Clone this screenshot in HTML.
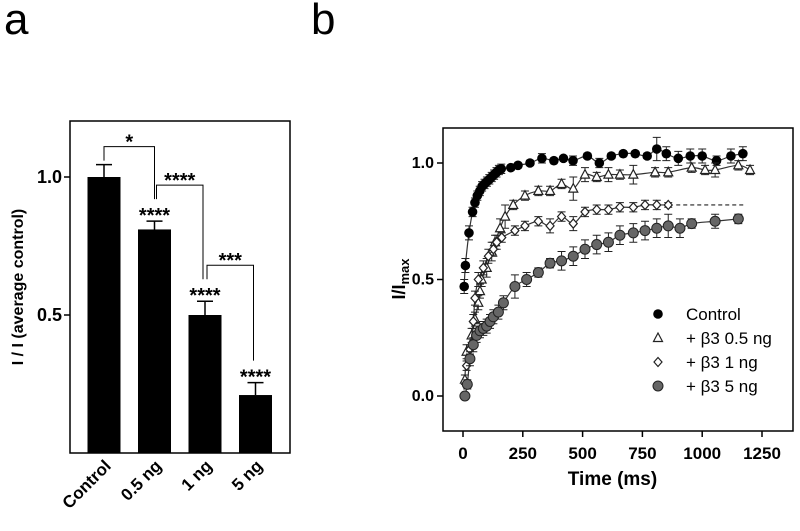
<!DOCTYPE html>
<html><head><meta charset="utf-8"><style>
body{margin:0;background:#fff;}
svg{display:block;font-family:"Liberation Sans",sans-serif;}
</style></head><body>
<svg id="fig" width="800" height="531" viewBox="0 0 800 531" xmlns="http://www.w3.org/2000/svg">
<text x="4" y="34" font-size="44">a</text>
<text x="311" y="34" font-size="44">b</text>
<g id="pa"></g>
<g id="pb"></g>
</svg>
<script>
// ---- Panel a data ----
const aCategories = ["Control","0.5 ng","1 ng","5 ng"];
const aValues = [1.0, 0.81, 0.50, 0.21];
const aErrors = [0.045, 0.03, 0.05, 0.045];
const aStarsAbove = ["", "****", "****", "****"];
const aTicks = [0.5, 1.0];
const aTickLabels = ["0.5","1.0"];
const aBrackets = [[0,1,"*"],[1,2,"****"],[2,3,"***"]];

// ---- Panel b data ----
const ctlT = [5,10,25,40,50,60,70,80,90,100,110,120,130,140,150,160,200,230,280,330,380,420,460,520,570,620,670,720,770,810,850,900,950,1000,1060,1120,1170];
const ctlY = [0.47,0.56,0.70,0.79,0.83,0.86,0.88,0.90,0.91,0.92,0.93,0.94,0.95,0.96,0.97,0.975,0.98,0.99,1.0,1.02,1.01,1.02,1.01,1.03,1.0,1.03,1.04,1.04,1.03,1.06,1.04,1.02,1.03,1.03,1.01,1.03,1.04];
const ctlE = [0.03,0.03,0.03,0.02,0.02,0.02,0.02,0.02,0.02,0.02,0.02,0.02,0.02,0.02,0.02,0.02,0.01,0.01,0.01,0.02,0.01,0.01,0.02,0.01,0.02,0.01,0.01,0.01,0.01,0.05,0.03,0.03,0.03,0.03,0.02,0.03,0.03];
const t05T = [8,15,36,50,64,71,78,99,120,134,155,176,210,259,315,364,412,461,510,559,608,656,712,803,858,956,1012,1054,1151,1200];
const t05Y = [0.07,0.19,0.26,0.33,0.40,0.45,0.50,0.55,0.62,0.66,0.72,0.77,0.82,0.86,0.88,0.88,0.91,0.89,0.95,0.94,0.95,0.95,0.95,0.96,0.96,0.98,0.97,0.97,0.99,0.97];
const t05E = [0.02,0.03,0.03,0.03,0.03,0.03,0.03,0.04,0.04,0.03,0.04,0.05,0.02,0.02,0.02,0.02,0.02,0.05,0.03,0.02,0.03,0.02,0.04,0.02,0.02,0.02,0.02,0.03,0.02,0.02];
const t1T = [15,29,43,50,64,85,106,127,141,162,217,259,315,364,412,461,510,559,608,656,712,761,810,858];
const t1Y = [0.13,0.20,0.32,0.42,0.50,0.55,0.60,0.63,0.66,0.68,0.71,0.73,0.75,0.73,0.77,0.74,0.79,0.80,0.80,0.81,0.81,0.82,0.82,0.82];
const t1E = [0.02,0.02,0.03,0.03,0.03,0.03,0.03,0.03,0.03,0.02,0.02,0.02,0.02,0.03,0.02,0.03,0.02,0.02,0.02,0.02,0.02,0.02,0.02,0.01];
const t5T = [8,18,29,43,57,71,85,99,113,127,148,169,217,266,315,364,412,461,510,559,608,656,712,761,810,858,907,956,1054,1151];
const t5Y = [0.0,0.05,0.16,0.22,0.26,0.28,0.29,0.30,0.32,0.34,0.36,0.40,0.47,0.50,0.53,0.57,0.58,0.60,0.63,0.65,0.66,0.69,0.70,0.71,0.72,0.73,0.72,0.74,0.75,0.76];
const t5E = [0.01,0.02,0.03,0.03,0.03,0.03,0.03,0.03,0.03,0.03,0.03,0.03,0.05,0.03,0.02,0.02,0.04,0.04,0.04,0.04,0.04,0.04,0.04,0.04,0.04,0.05,0.04,0.02,0.03,0.02];
const t1Plateau = 0.82;
const bXTicks = [0,250,500,750,1000,1250];
const bYTicks = [0.0,0.5,1.0];
const bYTickLabels = ["0.0","0.5","1.0"];
const legendLabels = ["Control","+ β3 0.5 ng","+ β3 1 ng","+ β3 5 ng"];

const NS="http://www.w3.org/2000/svg";
function mk(parent,tag,attrs){const e=document.createElementNS(NS,tag);for(const k in attrs)e.setAttribute(k,attrs[k]);parent.appendChild(e);return e;}

// ===== Panel a =====
const pa=document.getElementById('pa');
const aL=70,aR=290,aT=121,aB=453;
const ay=v=>aB-v*276;
const barW=33;
const ax=i=>104+i*50.5;
let r=mk(pa,'rect',{x:aL,y:aT,width:aR-aL,height:aB-aT,fill:'none',stroke:'#000','stroke-width':1.5});


aTicks.forEach((t,i)=>{
  let l=mk(pa,'line',{x1:aL-6,x2:aL,y1:ay(t),y2:ay(t),stroke:'#000','stroke-width':1.5});
  
  
  let tx=mk(pa,'text',{x:aL-8,y:ay(t)+6,'text-anchor':'end','font-size':18,'font-weight':'bold'});
  tx.textContent=aTickLabels[i];
  
  
});
let yl=mk(pa,'text',{transform:'translate(23,287) rotate(-90)','text-anchor':'middle','font-size':16,'font-weight':'bold'});
yl.textContent='I / I (average control)';


aValues.forEach((v,i)=>{
  const cx=ax(i);
  let b=mk(pa,'rect',{x:cx-barW/2,y:ay(v),width:barW,height:aB-ay(v),fill:'#000'});
  
  
  const te=ay(v+aErrors[i]);
  let e=mk(pa,'path',{d:`M${cx},${ay(v)}V${te}M${cx-8},${te}H${cx+8}`,stroke:'#000','stroke-width':1.5,fill:'none'});
  
  
  if(aStarsAbove[i]){
    let s=mk(pa,'text',{x:cx,y:te+1,'text-anchor':'middle','font-size':20,'font-weight':'bold'});
    s.textContent=aStarsAbove[i];
    
    
  }
  let xl=mk(pa,'text',{transform:`translate(${cx+8},${aB+14}) rotate(-45)`,'text-anchor':'end','font-size':17,'font-weight':'bold'});
  xl.textContent=aCategories[i];
  
  
});
aBrackets.forEach(([i,j,lab])=>{
  const xi=ax(i)+(i===0?0:2), xj=ax(j)-(j===1?0:2);
  const topI=ay(aValues[i]+aErrors[i])-(i===0?4:22);
  const topJ=ay(aValues[j]+aErrors[j])-22;
  const hy=Math.min(topI,topJ)-14;
  let p=mk(pa,'path',{d:`M${xi},${topI}V${hy}H${xj}V${topJ}`,stroke:'#000','stroke-width':1,fill:'none'});
  
  
  let s=mk(pa,'text',{x:(xi+xj)/2,y:hy+2,'text-anchor':'middle','font-size':20,'font-weight':'bold'});
  s.textContent=lab;
  
  
});

// ===== Panel b =====
const pb=document.getElementById('pb');
const bL=443,bR=793,bT=128,bB=431;
const bx=t=>463+t*0.2392;
const by=v=>396-v*233;
let rb=mk(pb,'path',{d:`M${bL},${bT}H${bR}V${bB}H${bL}Z`,fill:'none',stroke:'#000','stroke-width':1.5});


bYTicks.forEach((t,i)=>{
  let l=mk(pb,'line',{x1:bL-6,x2:bL,y1:by(t),y2:by(t),stroke:'#000','stroke-width':1.5});
  
  
  let tx=mk(pb,'text',{x:bL-9,y:by(t)+5,'text-anchor':'end','font-size':16,'font-weight':'bold'});
  tx.textContent=bYTickLabels[i];
  
  
});
bXTicks.forEach(t=>{
  let l=mk(pb,'line',{x1:bx(t),x2:bx(t),y1:bB,y2:bB+6,stroke:'#000','stroke-width':1.5});
  
  
  let tx=mk(pb,'text',{x:bx(t),y:bB+28,'text-anchor':'middle','font-size':17,'font-weight':'bold'});
  tx.textContent=String(t);
  
  
});
let xt=mk(pb,'text',{x:bx(625),y:bB+54,'text-anchor':'middle','font-size':19,'font-weight':'bold'});
xt.textContent='Time (ms)';


let ytb=mk(pb,'text',{transform:'translate(405,279) rotate(-90)','text-anchor':'middle','font-size':18,'font-weight':'bold'});
ytb.innerHTML='I/I<tspan font-size="13" dy="4">max</tspan>';



function smoothPath(T,Y){
  const P=T.map((t,i)=>[bx(t),by(Y[i])]);
  let d=`M${P[0][0]},${P[0][1]}`;
  for(let i=0;i<P.length-1;i++){
    const p0=P[Math.max(i-1,0)],p1=P[i],p2=P[i+1],p3=P[Math.min(i+2,P.length-1)];
    d+=`C${p1[0]+(p2[0]-p0[0])/6},${p1[1]+(p2[1]-p0[1])/6} ${p2[0]-(p3[0]-p1[0])/6},${p2[1]-(p3[1]-p1[1])/6} ${p2[0]},${p2[1]}`;
  }
  return d;
}
function marker(g,kind,x,y,name){
  let m;
  if(kind==='circle') m=mk(g,'circle',{cx:x,cy:y,r:4.8,fill:'#000'});
  else if(kind==='grey') m=mk(g,'circle',{cx:x,cy:y,r:5,fill:'#666',stroke:'#222','stroke-width':1});
  else if(kind==='tri') m=mk(g,'path',{d:`M${x},${y-5}L${x+4.5},${y+3.5}L${x-4.5},${y+3.5}Z`,fill:'#fff',stroke:'#222','stroke-width':1.2});
  else m=mk(g,'path',{d:`M${x},${y-4.5}L${x+4},${y}L${x},${y+4.5}L${x-4},${y}Z`,fill:'#fff',stroke:'#222','stroke-width':1.2});
  
  
}
const series=[
  [ctlT,ctlY,ctlE,'circle','control'],
  [t05T,t05Y,t05E,'tri','beta3-0-5ng'],
  [t1T,t1Y,t1E,'diamond','beta3-1ng'],
  [t5T,t5Y,t5E,'grey','beta3-5ng']
];
series.forEach(([T,Y,E,kind,name])=>{
  const g=mk(pb,'g',{});
  
  
  let ln=mk(g,'path',{d:smoothPath(T,Y),fill:'none',stroke:'#333','stroke-width':1.2});
  
  
  T.forEach((t,i)=>{
    const x=bx(t),y1=by(Y[i]+E[i]),y2=by(Y[i]-E[i]);
    let e=mk(g,'path',{d:`M${x},${y1}V${y2}M${x-4},${y1}H${x+4}M${x-4},${y2}H${x+4}`,stroke:'#222','stroke-width':1,fill:'none'});
    
    
  });
  T.forEach((t,i)=>marker(g,kind,bx(t),by(Y[i]),'point-'+name));
});
let dash=mk(pb,'line',{x1:bx(t1T[t1T.length-1])+8,x2:bx(1172),y1:by(t1Plateau),y2:by(t1Plateau),stroke:'#222','stroke-width':1.2,'stroke-dasharray':'4,3'});


const kinds=['circle','tri','diamond','grey'];
const lg=mk(pb,'g',{});


legendLabels.forEach((lab,i)=>{
  const y=314+i*24;
  marker(lg,kinds[i],658,y,'legend-marker');
  let t=mk(lg,'text',{x:686,y:y+6,'font-size':17});
  t.textContent=lab;
  
  
});
</script>
</body></html>
